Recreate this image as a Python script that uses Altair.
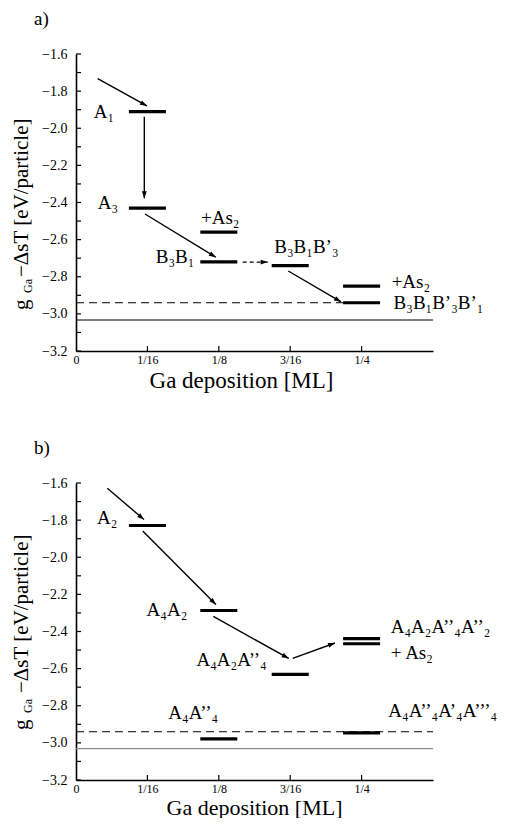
import math
import altair as alt
import pandas as pd

FONT = "'Liberation Serif', 'Times New Roman', 'DejaVu Serif', serif"
X_DOMAIN = [0, 0.3125]
Y_DOMAIN = [-3.2, -1.6]
PLOT_W, PLOT_H = 357, 297

# ---------------- axes ----------------
x_tick_values = [0, 0.0625, 0.125, 0.1875, 0.25]
x_tick_labels = ["0", "1/16", "1/8", "3/16", "1/4"]
x_minor_ticks = [0.0625, 0.125, 0.1875, 0.25]
y_label_values = [-1.6, -1.8, -2.0, -2.2, -2.4, -2.6, -2.8, -3.0, -3.2]
y_minor_ticks = [-1.6, -1.7, -1.8, -1.9, -2.0, -2.1, -2.2, -2.3, -2.4,
                 -2.5, -2.6, -2.7, -2.8, -2.9, -3.0, -3.1, -3.2]

# ---------------- panel a ----------------
a_level_x = [0.0625, 0.0625, 0.125, 0.125, 0.1875, 0.25, 0.25]
a_level_y = [-1.91, -2.43, -2.56, -2.72, -2.74, -2.85, -2.94]

a_right_text = ["A₁", "A₃", "B₃B₁"]
a_right_x = [0.0333, 0.0368, 0.1036]
a_right_y = [-1.91, -2.404, -2.692]
a_left_text = ["+As₂", "B₃B₁B’₃", "+As₂", "B₃B₁B’₃B’₁"]
a_left_x = [0.1094, 0.1736, 0.2763, 0.278]
a_left_y = [-2.485, -2.642, -2.827, -2.943]

a_arrow_x1 = [0.019, 0.0598, 0.0604, 0.1858]
a_arrow_y1 = [-1.733, -1.938, -2.462, -2.769]
a_arrow_x2 = [0.0621, 0.0598, 0.1225, 0.232]
a_arrow_y2 = [-1.880, -2.377, -2.695, -2.935]
a_dash_arrow_x1 = [0.1459]
a_dash_arrow_y1 = [-2.721]
a_dash_arrow_x2 = [0.1678]
a_dash_arrow_y2 = [-2.721]

a_dashed_ref = {"y": -2.94, "x1": 0.0, "x2": 0.25}
a_solid_ref = {"y": -3.033, "x1": 0.0, "x2": 0.3125}

# ---------------- panel b ----------------
b_level_x = [0.0625, 0.125, 0.1875, 0.25, 0.25, 0.125, 0.25]
b_level_y = [-1.829, -2.287, -2.631, -2.438, -2.466, -2.978, -2.946]

b_right_text = ["A₂", "A₄A₂", "A₄A₂A’’₄"]
b_right_x = [0.0362, 0.0974, 0.1669]
b_right_y = [-1.791, -2.283, -2.552]
b_left_text = ["A₄A’’₄", "A₄A₂A’’₄A’’₂", "+ As₂", "A₄A’’₄A’₄A’’’₄"]
b_left_x = [0.0808, 0.2755, 0.2755, 0.2734]
b_left_y = [-2.838, -2.378, -2.516, -2.829]

b_arrow_x1 = [0.0274, 0.0584, 0.1202, 0.1897]
b_arrow_y1 = [-1.628, -1.858, -2.319, -2.545]
b_arrow_x2 = [0.0595, 0.1225, 0.1862, 0.2267]
b_arrow_y2 = [-1.797, -2.255, -2.545, -2.462]

b_dashed_ref = {"y": -2.94, "x1": 0.0, "x2": 0.3125}
b_solid_ref = {"y": -3.031, "x1": 0.0, "x2": 0.3125}

# ---------------- helpers ----------------
ARROW_PATH = "M0,0 L-0.7,2 L0.7,2 Z"
LABEL_EXPR = "[" + ",".join("'%s'" % s for s in x_tick_labels) + "][round(datum.value*16)]"


def make_x_axis(xtitle, title_x, title_y, title_size):
    return alt.Axis(
        values=x_tick_values, labelExpr=LABEL_EXPR, ticks=False, tickSize=0,
        labelPadding=3, labelFont=FONT, labelFontSize=12, labelColor="black",
        labelFlush=False, labelOverlap=False, grid=False,
        domainColor="black", domainWidth=1.6,
        title=xtitle, titleFont=FONT, titleFontSize=title_size, titleFontWeight="normal",
        titleColor="black", titleX=title_x, titleY=title_y,
        titleBaseline="alphabetic")


def make_y_axis():
    return alt.Axis(
        values=y_label_values, format=".1f", ticks=False, tickSize=0,
        labelPadding=9, labelFont=FONT, labelFontSize=14, labelColor="black",
        labelOverlap=False, labelFlush=False, grid=False,
        domainColor="black", domainWidth=1.6, title=None)


def arrow_frame(x1, y1, x2, y2):
    rows = []
    for a, b, c, d in zip(x1, y1, x2, y2):
        dx = (c - a) / (X_DOMAIN[1] - X_DOMAIN[0]) * PLOT_W
        dy = (b - d) / (Y_DOMAIN[1] - Y_DOMAIN[0]) * PLOT_H
        ang = math.degrees(math.atan2(dx, -dy)) % 360
        rows.append({"x1": a, "y1": b, "x2": c, "y2": d, "angle": ang})
    return pd.DataFrame(rows)


def panel(letter, level_x, level_y, right_text, right_x, right_y,
          left_text, left_x, left_y, arrow_df, dash_df, dashed_ref, solid_ref,
          solid_color, xtitle, title_x, title_y, title_size, ytitle_pos):

    def X(field):
        return alt.X(field, type="quantitative",
                     scale=alt.Scale(domain=X_DOMAIN, nice=False, zero=False),
                     axis=make_x_axis(xtitle, title_x, title_y, title_size))

    def Y(field):
        return alt.Y(field, type="quantitative",
                     scale=alt.Scale(domain=Y_DOMAIN, nice=False, zero=False),
                     axis=make_y_axis())

    levels_df = pd.DataFrame({"x": level_x, "y": level_y})
    levels = alt.Chart(levels_df).mark_tick(
        orient="horizontal", size=37, thickness=3.2, color="black", opacity=1
    ).encode(x=X("x"), y=Y("y"))

    dashed = alt.Chart(pd.DataFrame([dashed_ref])).mark_rule(
        color="black", strokeWidth=1, strokeDash=[8, 5]
    ).encode(x=X("x1"), x2="x2:Q", y=Y("y"))
    solid = alt.Chart(pd.DataFrame([solid_ref])).mark_rule(
        color=solid_color, strokeWidth=1.2
    ).encode(x=X("x1"), x2="x2:Q", y=Y("y"))

    yt = alt.Chart(pd.DataFrame({"y": y_minor_ticks, "x0": 0.0})).mark_tick(
        orient="horizontal", size=5, thickness=1.2, xOffset=2.5, color="black", opacity=1
    ).encode(x=X("x0"), y=Y("y"))
    xt = alt.Chart(pd.DataFrame({"x": x_minor_ticks, "y0": Y_DOMAIN[0]})).mark_tick(
        orient="vertical", size=5, thickness=1.2, yOffset=-2.5, color="black", opacity=1
    ).encode(x=X("x"), y=Y("y0"))

    def arrows(df, dashed_line=False):
        kw = {"strokeDash": [4, 3]} if dashed_line else {}
        line = alt.Chart(df).mark_rule(color="black", strokeWidth=1.4, **kw).encode(
            x=X("x1"), y=Y("y1"), x2="x2:Q", y2="y2:Q")
        head = alt.Chart(df).mark_point(
            shape=ARROW_PATH, filled=True, size=49, color="black", opacity=1,
            strokeWidth=0
        ).encode(x=X("x2"), y=Y("y2"), angle=alt.Angle("angle:Q", scale=None))
        return [line, head]

    rlab = alt.Chart(pd.DataFrame({"t": right_text, "x": right_x, "y": right_y})).mark_text(
        align="right", baseline="middle", font=FONT, fontSize=19, color="black"
    ).encode(x=X("x"), y=Y("y"), text="t:N")
    llab = alt.Chart(pd.DataFrame({"t": left_text, "x": left_x, "y": left_y})).mark_text(
        align="left", baseline="middle", font=FONT, fontSize=19, color="black",
        limit=111, ellipsis="\u200b"
    ).encode(x=X("x"), y=Y("y"), text="t:N")

    def piece(text, x, y, size, angle=0):
        return alt.Chart(alt.Data(values=[{"t": text}])).mark_text(
            angle=angle, align="left", baseline="alphabetic", font=FONT,
            fontSize=size, color="black"
        ).encode(x=alt.value(x), y=alt.value(y), text="t:N")

    g_y, sub_y, main_y = ytitle_pos
    layers = [levels, dashed, solid, yt, xt] + arrows(arrow_df)
    if dash_df is not None:
        layers += arrows(dash_df, dashed_line=True)
    layers += [rlab, llab,
               piece("g", -48, g_y, 21, 270),
               piece("Ga", -44, sub_y, 12, 270),
               piece("−ΔsT [eV/particle]", -48, main_y, 21, 270),
               piece(letter, -42, -29, 19)]
    return alt.layer(*layers).properties(width=PLOT_W, height=PLOT_H)


chart_a = panel("a)", a_level_x, a_level_y, a_right_text, a_right_x, a_right_y,
                a_left_text, a_left_x, a_left_y,
                arrow_frame(a_arrow_x1, a_arrow_y1, a_arrow_x2, a_arrow_y2),
                arrow_frame(a_dash_arrow_x1, a_dash_arrow_y1, a_dash_arrow_x2, a_dash_arrow_y2),
                a_dashed_ref, a_solid_ref, "black", "Ga deposition [ML]", 165, 36, 23,
                (256, 239, 223))
chart_b = panel("b)", b_level_x, b_level_y, b_right_text, b_right_x, b_right_y,
                b_left_text, b_left_x, b_left_y,
                arrow_frame(b_arrow_x1, b_arrow_y1, b_arrow_x2, b_arrow_y2), None,
                b_dashed_ref, b_solid_ref, "#8c8c8c", "Ga  deposition [ML]", 178, 34, 22,
                (247, 230, 210))

chart = alt.vconcat(chart_a, chart_b, spacing=47).properties(
    padding={"left": 2, "top": 2, "right": 0, "bottom": 0}
).configure_view(stroke=None)

chart.save("out.html", embed_options={"renderer": "svg", "actions": False})
